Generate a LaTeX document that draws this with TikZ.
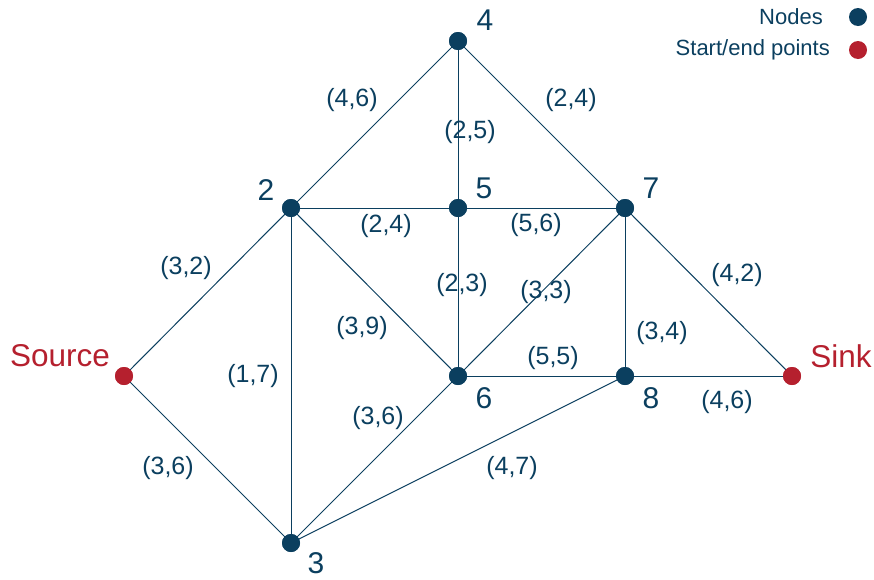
\documentclass[tikz,border=0pt]{standalone}
\usepackage{fontspec}
\setmainfont{Liberation Sans}
\definecolor{nodeblue}{HTML}{0B3F5F}
\definecolor{endred}{HTML}{B5202E}
\begin{document}
\begin{tikzpicture}[x=1pt,y=-1pt,
  dot/.style={circle,fill=nodeblue,inner sep=0pt,minimum size=18pt},
  enddot/.style={circle,fill=endred,inner sep=0pt,minimum size=18pt},
  edge/.style={draw=nodeblue,line width=1pt},
  elab/.style={text=nodeblue,font=\fontsize{25}{29}\selectfont,inner sep=0pt},
  nlab/.style={text=nodeblue,font=\fontsize{30}{34}\selectfont,inner sep=0pt},
  elabel/.style={text=endred,font=\fontsize{31.5}{35}\selectfont,inner sep=0pt},
  leg/.style={text=nodeblue,font=\fontsize{22}{26}\selectfont,inner sep=0pt,anchor=east}]
\useasboundingbox (0,0) rectangle (874,579);
% nodes
\node[enddot] (S) at (124,376) {};
\node[dot] (n2) at (291,208) {};
\node[dot] (n4) at (458,41) {};
\node[dot] (n5) at (458,208) {};
\node[dot] (n7) at (625,208) {};
\node[dot] (n6) at (458,376) {};
\node[dot] (n8) at (625,376) {};
\node[enddot] (T) at (792,376) {};
\node[dot] (n3) at (291,543) {};
% edges
\draw[edge] (S.center) -- (n2.center);
\draw[edge] (S.center) -- (n3.center);
\draw[edge] (n2.center) -- (n4.center);
\draw[edge] (n2.center) -- (n5.center);
\draw[edge] (n2.center) -- (n6.center);
\draw[edge] (n2.center) -- (n3.center);
\draw[edge] (n4.center) -- (n5.center);
\draw[edge] (n4.center) -- (n7.center);
\draw[edge] (n5.center) -- (n7.center);
\draw[edge] (n5.center) -- (n6.center);
\draw[edge] (n6.center) -- (n7.center);
\draw[edge] (n7.center) -- (n8.center);
\draw[edge] (n7.center) -- (T.center);
\draw[edge] (n6.center) -- (n8.center);
\draw[edge] (n8.center) -- (T.center);
\draw[edge] (n6.center) -- (n3.center);
\draw[edge] (n8.center) -- (n3.center);
% redraw dots on top
\node[enddot] at (S) {};
\node[enddot] at (T) {};
\foreach \n in {n2,n3,n4,n5,n6,n7,n8} \node[dot] at (\n) {};
% edge labels
\node[elab] (l1) at (352,100) {(4,6)};
\node[elab] (l2) at (571,100) {(2,4)};
\node[elab] (l3) at (470,132) {(2,5)};
\node[elab] (l4) at (386,226) {(2,4)};
\node[elab] (l5) at (536,225) {(5,6)};
\node[elab] (l6) at (186,268) {(3,2)};
\node[elab] (l7) at (737,275) {(4,2)};
\node[elab] (l8) at (462,285) {(2,3)};
\node[elab] (l9) at (546,292) {(3,3)};
\node[elab] (l10) at (362,328) {(3,9)};
\node[elab] (l11) at (662,333) {(3,4)};
\node[elab] (l12) at (253,376) {(1,7)};
\node[elab] (l13) at (553,358) {(5,5)};
\node[elab] (l14) at (378,418) {(3,6)};
\node[elab] (l15) at (727,402) {(4,6)};
\node[elab] (l16) at (168,468) {(3,6)};
\node[elab] (l17) at (512,468) {(4,7)};
% node labels
\node[nlab] (t4) at (485,20) {4};
\node[nlab] (t2) at (266,190) {2};
\node[nlab] (t5) at (484,188) {5};
\node[nlab] (t7) at (651,188) {7};
\node[nlab] (t6) at (484,398) {6};
\node[nlab] (t8) at (651,398) {8};
\node[nlab] (t3) at (316,563) {3};
\node[elabel] (tS) at (60,356) {Source};
\node[elabel] (tT) at (841,356) {Sink};
% legend
\node[dot] (ld1) at (858,17) {};
\node[enddot] (ld2) at (858,50) {};
\node[leg] (lt1) at (823,17) {Nodes};
\node[leg] (lt2) at (830,50) {Start/end points};
\end{tikzpicture}
\end{document}
